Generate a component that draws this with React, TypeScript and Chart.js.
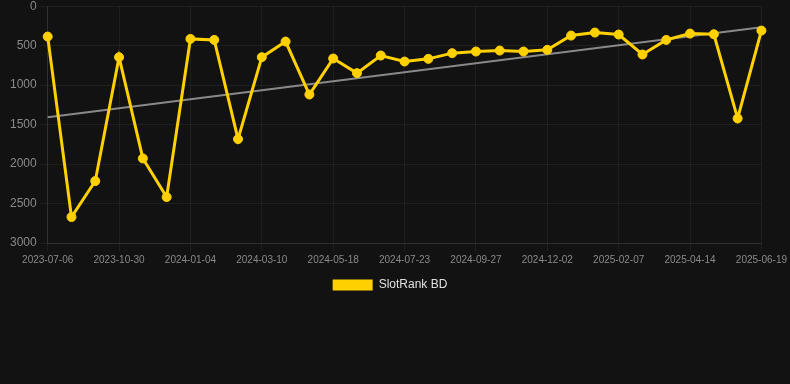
import React, { useEffect, useRef } from "react";
import { Chart, registerables } from "chart.js";

Chart.register(...registerables);

const dates = [
  "2023-07-06", "2023-08-14", "2023-09-22", "2023-10-30", "2023-11-21", "2023-12-13",
  "2024-01-04", "2024-01-26", "2024-02-17", "2024-03-10", "2024-04-02", "2024-04-25",
  "2024-05-18", "2024-06-09", "2024-07-01", "2024-07-23", "2024-08-14", "2024-09-05",
  "2024-09-27", "2024-10-19", "2024-11-10", "2024-12-02", "2024-12-24", "2025-01-16",
  "2025-02-07", "2025-03-01", "2025-03-23", "2025-04-14", "2025-05-06", "2025-05-28",
  "2025-06-19",
];

const rankValues = [
  385, 2671, 2215, 646, 1929, 2418, 414, 427, 1684, 646,
  448, 1119, 663, 848, 625, 701, 667, 595, 574, 562,
  574, 553, 372, 334, 359, 612, 427, 347, 355, 1422,
  309,
];

const seriesName = "SlotRank BD";
const yTicks = [0, 500, 1000, 1500, 2000, 2500, 3000];

function trendLine(values: number[]): number[] {
  const n = values.length;
  const mx = (n - 1) / 2;
  const my = values.reduce((a, b) => a + b, 0) / n;
  let sxy = 0;
  let sxx = 0;
  values.forEach((v, i) => {
    sxy += (i - mx) * (v - my);
    sxx += (i - mx) * (i - mx);
  });
  const slope = sxy / sxx;
  return values.map((_, i) => my + slope * (i - mx));
}

export default function App() {
  const ref = useRef<HTMLCanvasElement | null>(null);

  useEffect(() => {
    document.body.style.margin = "0";
    document.body.style.background = "#121212";
    if (!ref.current) return;
    const yellow = "#FFD100";
    const font = "Liberation Sans, Arial, sans-serif";
    const chart = new Chart(ref.current, {
      type: "line",
      data: {
        labels: dates,
        datasets: [
          {
            label: seriesName,
            data: rankValues,
            borderColor: yellow,
            backgroundColor: yellow,
            borderWidth: 3,
            pointRadius: 4.5,
            pointBorderWidth: 1,
            pointHoverRadius: 5,
            pointBackgroundColor: yellow,
            pointBorderColor: yellow,
            tension: 0,
            order: 1,
          },
          {
            label: "trend",
            data: trendLine(rankValues),
            borderColor: "rgba(150,150,150,0.9)",
            backgroundColor: "rgba(150,150,150,0.9)",
            borderWidth: 2,
            pointRadius: 0,
            tension: 0,
            order: 2,
          },
        ],
      },
      options: {
        animation: false,
        responsive: true,
        maintainAspectRatio: false,
        layout: { padding: { left: 7, right: 17, top: 0, bottom: 0 } },
        plugins: {
          legend: {
            position: "bottom",
            labels: {
              color: "#e0e0e0",
              font: { family: font, size: 12 },
              boxWidth: 40,
              boxHeight: 11,
              filter: (item) => item.text === seriesName,
              generateLabels: (c) =>
                Chart.defaults.plugins.legend.labels
                  .generateLabels(c)
                  .map((it) => ({ ...it, lineWidth: 0, strokeStyle: "transparent" })),
            },
          },
          tooltip: { enabled: false },
        },
        scales: {
          x: {
            grid: { color: "rgba(255,255,255,0.06)" },
            border: { color: "rgba(255,255,255,0.08)" },
            ticks: {
              color: "#8a8a8a",
              font: { family: font, size: 10 },
              maxRotation: 0,
              autoSkip: true,
              maxTicksLimit: 11,
            },
          },
          y: {
            reverse: true,
            min: yTicks[0],
            max: yTicks[yTicks.length - 1],
            grid: { color: "rgba(255,255,255,0.06)" },
            border: { color: "rgba(255,255,255,0.08)" },
            ticks: {
              stepSize: 500,
              color: "#8a8a8a",
              font: { family: font, size: 12 },
              callback: (v) => String(v),
            },
          },
        },
      },
    });
    return () => chart.destroy();
  }, []);

  return (
    <div style={{ width: 790, height: 384, background: "#121212", overflow: "hidden" }}>
      <div style={{ width: 790, height: 305, position: "relative", marginTop: -4 }}>
        <canvas ref={ref} />
      </div>
    </div>
  );
}
